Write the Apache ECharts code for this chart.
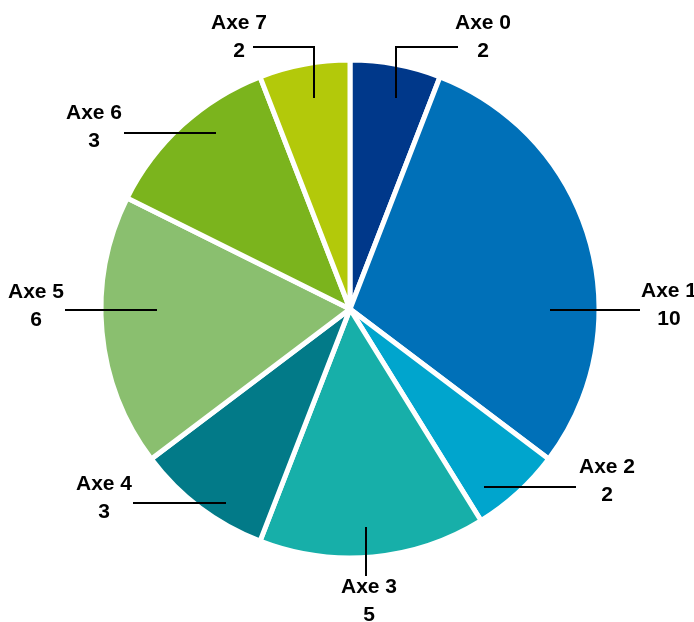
<!DOCTYPE html>
<html>
<head>
<meta charset="utf-8">
<script src="https://cdn.jsdelivr.net/npm/echarts@6/dist/echarts.min.js"></script>
<style>
html,body{margin:0;padding:0;background:#fff;}
#c{width:694px;height:622px;}
</style>
</head>
<body>
<div id="c"></div>
<script>
// ---- data ----
var categories = ['Axe 0', 'Axe 1', 'Axe 2', 'Axe 3', 'Axe 4', 'Axe 5', 'Axe 6', 'Axe 7'];
// slice sizes as drawn in the picture (Axe 6 slice is twice Axe 7)
var values = [2, 10, 2, 5, 3, 6, 4, 2];
// values as printed in the labels
var labelValues = [2, 10, 2, 5, 3, 6, 3, 2];

// ---- style / layout ----
var colors = ['#00388a', '#0070b8', '#00a5cd', '#17afa9', '#027a88', '#8abf6f', '#7bb41d', '#b3c90a'];
// label block centres and leader-line paths (layout only)
var labelPos = [[483, 37], [669, 305], [607, 481], [369, 601], [104, 498], [36, 306], [94, 127], [239, 37]];
var linePaths = [
  [[396, 98], [396, 47], [458, 47]],
  [[550, 310], [640, 310]],
  [[484, 487], [576, 487]],
  [[366, 527], [366, 576]],
  [[226, 503], [133, 503]],
  [[157, 310], [65, 310]],
  [[216, 133], [124, 133]],
  [[314, 98], [314, 47], [253, 47]]
];

var pieData = categories.map(function (c, i) { return {name: c, value: values[i]}; });
var common = {
  type: 'pie',
  center: [350, 309],
  radius: 249,
  startAngle: 90,
  clockwise: true,
  avoidLabelOverlap: false,
  data: pieData
};

var chart = echarts.init(document.getElementById('c'), null, {renderer: 'canvas'});
chart.setOption({
  animation: false,
  color: colors,
  series: [
    Object.assign({}, common, {
      z: 2,
      itemStyle: {borderColor: '#ffffff', borderWidth: 5},
      label: {show: false},
      labelLine: {show: false}
    }),
    Object.assign({}, common, {
      z: 5,
      silent: true,
      itemStyle: {color: 'rgba(0,0,0,0)', borderWidth: 0},
      label: {
        show: true,
        position: 'outside',
        formatter: function (p) { return p.name + '\n' + labelValues[p.dataIndex]; },
        fontFamily: '"Liberation Sans", Arial, sans-serif',
        fontWeight: 'bold',
        fontSize: 21,
        lineHeight: 28,
        color: '#000000',
        align: 'center'
      },
      labelLine: {show: true, lineStyle: {color: '#000000', width: 2}},
      labelLayout: function (p) {
        var i = p.dataIndex;
        return {
          x: labelPos[i][0],
          y: labelPos[i][1],
          align: 'center',
          verticalAlign: 'middle',
          labelLinePoints: linePaths[i]
        };
      }
    })
  ]
});
</script>
</body>
</html>
